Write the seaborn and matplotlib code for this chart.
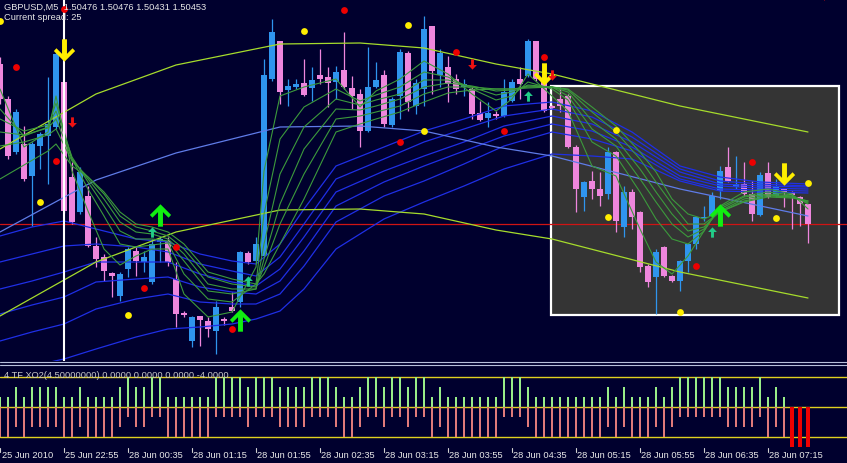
import numpy as np
import pandas as pd
import matplotlib
matplotlib.use("Agg")
import matplotlib.pyplot as plt
import matplotlib.transforms as mtransforms
from matplotlib.patches import Rectangle
from matplotlib.lines import Line2D
import seaborn as sns

sns.set_style("dark")
plt.rcParams['font.family'] = ['Liberation Sans', 'DejaVu Sans']

# ---------------- data (GBPUSD M5) ----------------
opens = [1.50615,1.50580,1.50527,1.50535,1.50503,1.50533,1.50543,1.50552,1.50597,1.50502,
         1.50467,1.50483,1.50433,1.50422,1.50406,1.50383,1.50410,1.50428,1.50417,1.50397,
         1.50437,1.50438,1.50400,1.50366,1.50338,1.50363,1.50358,1.50348,1.50360,1.50372,
         1.50377,1.50426,1.50418,1.50423,1.50600,1.50638,1.50589,1.50592,1.50596,1.50591,
         1.50604,1.50602,1.50597,1.50609,1.50591,1.50585,1.50548,1.50592,1.50604,1.50554,
         1.50583,1.50626,1.50573,1.50590,1.50653,1.50604,1.50612,1.50600,1.50592,1.50590,
         1.50566,1.50561,1.50565,1.50563,1.50578,1.50600,1.50603,1.50638,1.50597,1.50573,
         1.50580,1.50583,1.50532,1.50482,1.50498,1.50490,1.50485,1.50527,1.50452,1.50487,
         1.50467,1.50413,1.50402,1.50432,1.50403,1.50398,1.50418,1.50435,1.50461,1.50463,
         1.50488,1.50512,1.50492,1.50495,1.50485,1.50464,1.50506,1.50483,1.50490,1.50487,
         1.50482,1.50475]
highs = [1.50622,1.50583,1.50570,1.50553,1.50537,1.50547,1.50602,1.50630,1.50597,1.50517,
         1.50512,1.50493,1.50442,1.50425,1.50407,1.50407,1.50432,1.50432,1.50428,1.50440,
         1.50443,1.50442,1.50417,1.50368,1.50363,1.50363,1.50362,1.50378,1.50362,1.50387,
         1.50428,1.50428,1.50442,1.50620,1.50660,1.50638,1.50600,1.50600,1.50620,1.50612,
         1.50630,1.50612,1.50613,1.50647,1.50603,1.50590,1.50632,1.50617,1.50609,1.50582,
         1.50630,1.50628,1.50600,1.50663,1.50653,1.50630,1.50623,1.50605,1.50600,1.50592,
         1.50578,1.50577,1.50568,1.50600,1.50600,1.50612,1.50640,1.50638,1.50600,1.50574,
         1.50592,1.50585,1.50534,1.50498,1.50508,1.50507,1.50532,1.50528,1.50493,1.50490,
         1.50468,1.50415,1.50430,1.50433,1.50404,1.50419,1.50436,1.50463,1.50473,1.50487,
         1.50513,1.50532,1.50523,1.50517,1.50498,1.50507,1.50517,1.50500,1.50491,1.50488,
         1.50483,1.50475]
lows = [1.50575,1.50520,1.50525,1.50498,1.50453,1.50510,1.50495,1.50550,1.50466,1.50455,
        1.50465,1.50432,1.50412,1.50398,1.50382,1.50378,1.50402,1.50403,1.50407,1.50395,
        1.50417,1.50413,1.50352,1.50362,1.50332,1.50333,1.50342,1.50325,1.50354,1.50367,
        1.50372,1.50415,1.50417,1.50422,1.50598,1.50575,1.50573,1.50590,1.50583,1.50578,
        1.50595,1.50572,1.50580,1.50590,1.50570,1.50532,1.50547,1.50591,1.50552,1.50552,
        1.50560,1.50568,1.50565,1.50573,1.50585,1.50592,1.50577,1.50585,1.50583,1.50560,
        1.50558,1.50552,1.50560,1.50562,1.50577,1.50580,1.50602,1.50598,1.50567,1.50570,
        1.50567,1.50531,1.50467,1.50468,1.50480,1.50473,1.50480,1.50447,1.50442,1.50450,
        1.50407,1.50392,1.50365,1.50402,1.50397,1.50388,1.50407,1.50430,1.50458,1.50462,
        1.50480,1.50497,1.50490,1.50483,1.50458,1.50463,1.50481,1.50482,1.50472,1.50450,
        1.50453,1.50436]
closes = [1.50580,1.50523,1.50567,1.50500,1.50535,1.50545,1.50555,1.50625,1.50468,1.50457,
          1.50507,1.50433,1.50420,1.50408,1.50403,1.50405,1.50430,1.50418,1.50422,1.50435,
          1.50440,1.50417,1.50365,1.50364,1.50362,1.50359,1.50350,1.50372,1.50358,1.50368,
          1.50427,1.50417,1.50435,1.50604,1.50647,1.50587,1.50593,1.50595,1.50584,1.50599,
          1.50600,1.50596,1.50607,1.50592,1.50583,1.50548,1.50592,1.50599,1.50555,1.50580,
          1.50627,1.50577,1.50596,1.50650,1.50608,1.50626,1.50595,1.50590,1.50595,1.50565,
          1.50559,1.50566,1.50563,1.50587,1.50597,1.50595,1.50638,1.50600,1.50568,1.50571,
          1.50573,1.50532,1.50490,1.50497,1.50490,1.50483,1.50527,1.50458,1.50487,1.50462,
          1.50412,1.50397,1.50427,1.50403,1.50398,1.50418,1.50435,1.50462,1.50462,1.50483,
          1.50508,1.50498,1.50495,1.50485,1.50465,1.50504,1.50482,1.50493,1.50487,1.50484,
          1.50475,1.50455]

# GMMA short group (green), price points above 1.50000, sampled at bar positions
g_pos = [0,3,6,7,9,11,13,15,17,19,21,23,26,29,32,33,35,38,42,45,47,50,53,56,59,62,64,66,69,71,74,77,80,82,84,86,88,90,93,96,99,101]
g1 = [590,532,547,583,508,468,430,414,423,430,430,385,362,367,412,508,583,592,600,572,588,600,618,605,585,568,580,605,583,568,513,503,450,417,405,423,448,473,487,490,485,470]
g2 = [570,543,552,576,520,490,463,435,432,434,436,405,380,377,395,465,540,572,590,578,584,592,607,602,590,579,583,597,590,579,537,523,487,460,440,435,448,472,483,487,484,475]
g3 = [560,548,554,568,522,497,473,448,440,440,438,418,388,385,390,435,505,552,580,574,579,585,599,599,592,584,587,594,592,583,550,533,500,477,455,442,450,470,482,485,483,476]
g4 = [547,544,551,560,520,500,480,457,447,445,440,425,395,390,390,420,475,530,570,569,573,580,592,596,593,588,589,593,592,587,558,540,510,487,465,448,452,468,480,484,482,477]
g5 = [533,537,544,550,518,502,485,463,452,448,443,430,402,395,392,412,455,505,560,563,567,573,585,592,592,590,590,592,592,589,567,547,520,497,475,455,455,467,478,483,482,478]
g6 = [500,514,528,535,513,502,487,467,455,452,447,435,407,400,395,405,435,480,547,555,560,567,577,586,589,590,590,591,592,590,572,553,527,507,480,465,460,467,477,482,481,478]

# GMMA long group (blue)
b_pos = [0,4,8,12,17,21,25,29,32,35,38,42,48,53,58,63,69,74,79,85,90,95,101]
b1 = [443,452,458,450,440,437,425,418,415,435,470,513,532,548,560,573,577,568,547,513,502,497,495]
b2 = [417,425,433,435,432,427,415,408,403,422,455,500,520,537,550,563,570,562,542,510,498,495,493]
b3 = [390,398,407,417,417,417,405,397,393,410,442,487,508,523,537,553,563,555,537,507,495,493,492]
b4 = [365,374,382,397,400,402,392,387,385,398,428,473,497,513,528,543,555,548,532,503,493,491,490]
b5 = [338,347,355,370,380,385,377,375,375,385,413,457,483,498,515,533,547,540,528,500,490,489,488]
b6 = [305,313,320,330,342,350,352,355,360,368,390,430,460,477,493,510,525,523,520,498,488,487,486]

# regression channel
r_pos = [0,12,22,35,45,53,62,69,85,101]
r_mid = [447,499,526,552,553,548,532,523,490,463]
r_up  = [530,585,614,635,636,631,615,605,573,547]
r_low = [363,417,447,469,470,465,449,440,407,381]

# signals: (bar, price points above 1.50000)
big_down = [(8,629),(68,605),(98,505)]
big_up = [(20,464),(30,359),(90,464)]
small_up = [(19,447),(31,398),(66,583),(89,447)]
small_down = [(9,557),(59,615),(69,604),(103,684)]
red_dots = [(2,612),(7,518),(8,670),(18,391),(22,432),(29,350),(43,669),(50,537),(57,627),(63,548),(68,622),(87,413),(94,517)]
yellow_dots = [(0,658),(5,477),(16,364),(38,648),(51,654),(53,548),(77,549),(76,462),(85,367),(97,461),(101,496)]

bid_price = 1.50455

# 4 TF XO histogram
tf_up = [1,1,2,1,2,2,2,2,1,1, 2,1,1,1,1,2,3,2,2,3, 3,1,1,1,1,1,1,3,3,3,
         3,2,3,3,3,2,2,2,2,3, 3,3,2,1,1,2,3,3,2,3, 3,2,3,3,1,2,1,1,1,1,
         1,1,1,3,3,3,2,1,1,1, 1,1,1,1,1,1,2,1,2,1, 1,1,2,1,2,3,3,3,3,3,
         3,2,2,2,2,3,1,2,1,0, 0,0]
tf_down = [-3,-3,-2,-3,-2,-2,-2,-2,-3,-3, -2,-3,-3,-3,-3,-2,-1,-2,-2,-1, -1,-3,-3,-3,-3,-3,-3,-1,-1,-1,
           -1,-2,-1,-1,-1,-2,-2,-2,-2,-1, -1,-1,-2,-3,-3,-2,-1,-1,-2,-1, -1,-2,-1,-1,-3,-2,-3,-3,-3,-3,
           -3,-3,-3,-1,-1,-1,-2,-3,-3,-3, -3,-3,-3,-3,-3,-3,-2,-3,-2,-3, -3,-3,-2,-3,-2,-1,-1,-1,-1,-1,
           -1,-2,-2,-2,-2,-1,-3,-2,-3,-4, -4,-4]
tf_levels = [3, 0, -3]

time_labels = ["25 Jun 2010", "25 Jun 22:55", "28 Jun 00:35", "28 Jun 01:15", "28 Jun 01:55",
               "28 Jun 02:35", "28 Jun 03:15", "28 Jun 03:55", "28 Jun 04:35", "28 Jun 05:15",
               "28 Jun 05:55", "28 Jun 06:35", "28 Jun 07:15"]
time_pos = [0, 8, 16, 24, 32, 40, 48, 56, 64, 72, 80, 88, 96]

# ---------------- style ----------------
BG = '#00002e'
BULL = '#2f95ee'
BEAR = '#ee86dd'
GREEN_MA = '#3c9a3c'
BLUE_MA = '#1f2fe6'
MID = '#5f7ce8'
CHAN = '#a6dc2c'

W, H = 847, 464
fig = plt.figure(figsize=(W/100, H/100), dpi=100)
fig.patch.set_facecolor(BG)

ax = fig.add_axes([0, (H-362)/H, 1, 362/H])
ax2 = fig.add_axes([0, (H-450)/H, 1, 84/H])
for a in (ax, ax2):
    a.set_facecolor(BG)
    a.set_xticks([]); a.set_yticks([])
    for s in a.spines.values():
        s.set_visible(False)
    a.grid(False)

XMAX = W/8
ax.set_xlim(0, XMAX)
ax.set_ylim(1.50318, 1.50680)
ax2.set_xlim(0, XMAX)
ax2.set_ylim(-4.2, 4.2)

P = lambda v: 1.5 + np.asarray(v) * 1e-5

# box
ax.add_patch(Rectangle((68.875, 1.50364), 36.0, 0.00229, facecolor='#343434',
                       edgecolor='white', lw=1.6, zorder=1))

ax.axhline(bid_price, color='#d01414', lw=0.9, zorder=2)

# candles
idx = np.arange(len(opens))
o = np.array(opens); c = np.array(closes); h = np.array(highs); l = np.array(lows)
cols = np.where(c >= o, BULL, BEAR)
ax.vlines(idx, l, h, colors=cols, lw=0.9, zorder=3)
body = np.maximum(np.abs(c - o), 0.000012)
ax.bar(idx, body, bottom=np.minimum(o, c), width=0.7, color=cols, linewidth=0, zorder=3.1)

# lines
for arr in (b1, b2, b3, b4, b5, b6):
    sns.lineplot(x=b_pos, y=P(arr), ax=ax, color=BLUE_MA, lw=0.9, zorder=4)
sns.lineplot(x=r_pos, y=P(r_mid), ax=ax, color=MID, lw=0.9, zorder=4)
sns.lineplot(x=r_pos, y=P(r_up), ax=ax, color=CHAN, lw=0.9, zorder=4)
sns.lineplot(x=r_pos, y=P(r_low), ax=ax, color=CHAN, lw=0.9, zorder=4)
for arr in (g1, g2, g3, g4, g5, g6):
    sns.lineplot(x=g_pos, y=P(arr), ax=ax, color=GREEN_MA, lw=0.8, zorder=4.2)

ax.axvline(8, color='white', lw=1.5, zorder=4.5)

# markers
down_big = [(-0.22, 1), (0.22, 1), (0.22, -0.3), (0.72, 0.2), (0.95, -0.05), (0, -1),
            (-0.95, -0.05), (-0.72, 0.2), (-0.22, -0.3)]
up_big = [(x, -y) for x, y in down_big]
up_small = [(0, 1), (0.85, 0.1), (0.28, 0.1), (0.28, -1), (-0.28, -1), (-0.28, 0.1), (-0.85, 0.1)]
down_small = [(x, -y) for x, y in up_small]

def scat(pts, marker, size, color):
    xs = [p[0] for p in pts]; ys = P([p[1] for p in pts])
    sns.scatterplot(x=xs, y=ys, ax=ax, marker=marker, s=size, color=color,
                    linewidth=0, zorder=6)

scat(big_down, down_big, 260, '#ffee00')
scat(big_up, up_big, 260, '#11ee11')
scat(small_up, up_small, 55, '#22cc88')
scat(small_down, down_small, 55, '#ee1111')
scat(red_dots, 'o', 24, '#ee0000')
scat(yellow_dots, 'o', 24, '#ffee00')
ax.set_xlabel(''); ax.set_ylabel('')

# indicator panel
for lv in tf_levels:
    ax2.axhline(lv, color='#e0d020', lw=1.0, zorder=1)
tf_up_a = np.array(tf_up); tf_dn = np.array(tf_down)
alert = tf_dn <= -4
ax2.bar(idx, tf_up_a, width=0.33, color='#99ee88', linewidth=0, zorder=2)
ax2.bar(idx[~alert], tf_dn[~alert], width=0.33, color='#e07a7a', linewidth=0, zorder=2)
ax2.bar(idx[alert], tf_dn[alert], width=0.45, color='#ee0000', linewidth=0, zorder=2)
ax2.set_xlabel(''); ax2.set_ylabel('')

# separators
for yp in (363, 366):
    fig.add_artist(Line2D([0, 1], [(H-yp)/H]*2, color='#b8c0dc', lw=0.8))

# texts
fs = 6.7
fig.text(4/W, (H-7)/H, "GBPUSD,M5  1.50476 1.50476 1.50431 1.50453", color='#e6e6e6',
         fontsize=fs, va='center', ha='left')
fig.text(4/W, (H-18)/H, "Current spread: 25", color='#e6e6e6', fontsize=fs, va='center', ha='left')
fig.text(4/W, (H-376)/H, "4 TF XO2(4.50000000) 0.0000 0.0000 0.0000 -4.0000", color='#c8c8c8',
         fontsize=fs, va='center', ha='left')

trans = mtransforms.blended_transform_factory(ax2.transData, fig.transFigure)
for p, lab in zip(time_pos, time_labels):
    fig.add_artist(Line2D([p, p], [(H-449)/H, (H-453)/H], color='#d0d0d0', lw=0.8, transform=trans))
    fig.text(p + (2/8 if p == 0 else 1/8), (H-456)/H, lab, color='#e8e8e8', fontsize=fs,
             va='center', ha='left', transform=trans)

fig.savefig('out.png', dpi=100, facecolor=BG)
